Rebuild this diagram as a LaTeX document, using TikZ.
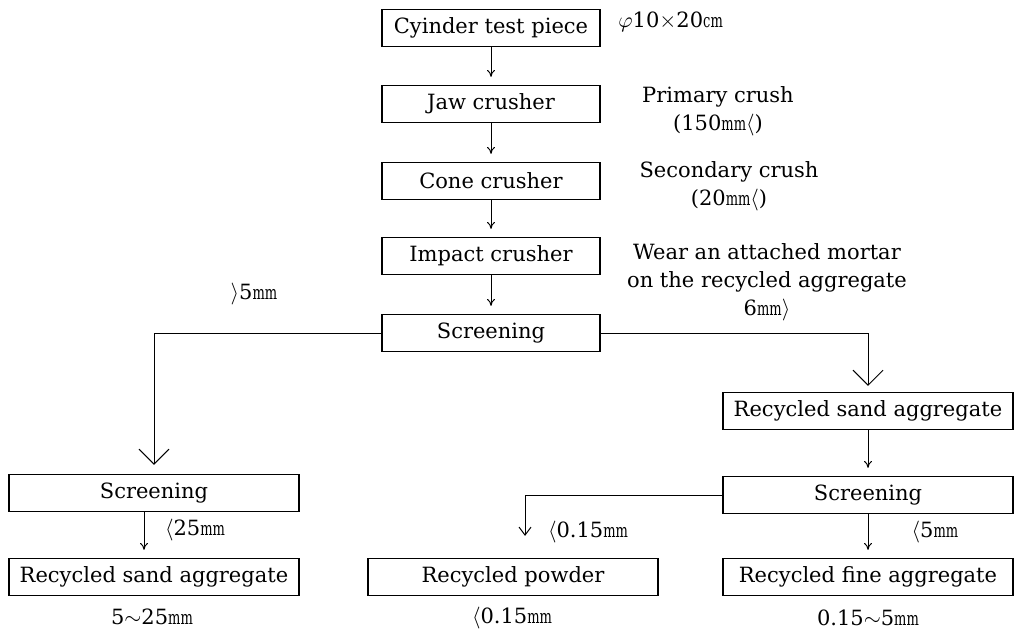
\documentclass[tikz,border=0pt]{standalone}
\usepackage{fontspec}
\setmainfont{DejaVu Serif}
\usetikzlibrary{arrows.meta}
\newcommand{\mmu}{\scalebox{0.62}[0.9]{mm}}
\newcommand{\cmu}{\scalebox{0.62}[0.9]{cm}}

\begin{document}
\begin{tikzpicture}[x=0.5pt,y=-0.5pt,>=Stealth, every node/.style={font=\fontsize{10.5}{14}\selectfont}]
    \tikzset{stage/.style={draw,line width=0.6pt,minimum height=18.5pt,inner sep=0pt}}
    \tikzset{topbox/.style={stage,minimum width=109pt}}
    \tikzset{widebox/.style={stage,minimum width=145pt}}
    \tikzset{flow/.style={-{To[length=3.5pt,width=4pt]},line width=0.5pt,shorten >=4pt}}
    \tikzset{split/.style={-{Straight Barb[length=7.5pt,width=15pt]},line width=0.5pt}}
    \tikzset{note/.style={inner sep=0pt,align=center}}

    \useasboundingbox (0,0) rectangle (1017,632);

    % Crushing line
    \node[topbox] (cyl) at (491,28) {Cyinder test piece};
    \node[topbox] (jaw) at (491,104) {Jaw crusher};
    \node[topbox] (cone) at (491,181) {Cone crusher};
    \node[topbox] (impact) at (491,256) {Impact crusher};
    \node[topbox] (scrA) at (491,333) {Screening};
    \draw[flow] (cyl) -- (jaw);
    \draw[flow] (jaw) -- (cone);
    \draw[flow] (cone) -- (impact);
    \draw[flow] (impact) -- (scrA);

    % Notes beside the crushers
    \node[note,anchor=west] (dims) at (618,22) {$\varphi$10$\times$20\cmu};
    \node[note] (crushA) at (718,111) {Primary crush\\(150\mmu$\langle$)};
    \node[note] (crushB) at (729,186) {Secondary crush\\(20\mmu$\langle$)};
    \node[note] (crushC) at (767,282) {Wear an attached mortar\\on the recycled aggregate\\6\mmu$\rangle$};

    % Coarse branch (left)
    \node[widebox] (scrB) at (154,493) {Screening};
    \node[widebox] (sandB) at (154,577) {Recycled sand aggregate};
    \draw[split,shorten >=4.5pt] (scrA.west) -| (scrB.north);
    \draw[flow] ([xshift=-5pt]scrB.south) -- ([xshift=-5pt]sandB.north);
    \node[note] (gt5) at (254,294) {$\rangle$5\mmu};
    \node[note] (lt25) at (195,530) {$\langle$25\mmu};
    \node[note] (sizeB) at (152,617) {5$\sim$25\mmu};

    % Fine branch (right)
    \node[widebox] (sandC) at (868,411) {Recycled sand aggregate};
    \node[widebox] (scrC) at (868,495) {Screening};
    \node[widebox] (powder) at (513,577) {Recycled powder};
    \node[widebox] (fine) at (868,577) {Recycled fine aggregate};
    \draw[split,shorten >=3pt] (scrA.east) -| (sandC.north);
    \draw[flow] (sandC) -- (scrC);
    \draw[flow] (scrC) -- (fine);
    \draw[-{Straight Barb[length=4pt,width=6pt]},line width=0.5pt,shorten >=11pt] (scrC.west) -| ([xshift=6pt]powder.north);
    \node[note] (lt015) at (588,532) {$\langle$0.15\mmu};
    \node[note] (lt5) at (935,532) {$\langle$5\mmu};
    \node[note] (sizeP) at (512,618) {$\langle$0.15\mmu};
    \node[note] (sizeF) at (868,618) {0.15$\sim$5\mmu};
\end{tikzpicture}
\end{document}
